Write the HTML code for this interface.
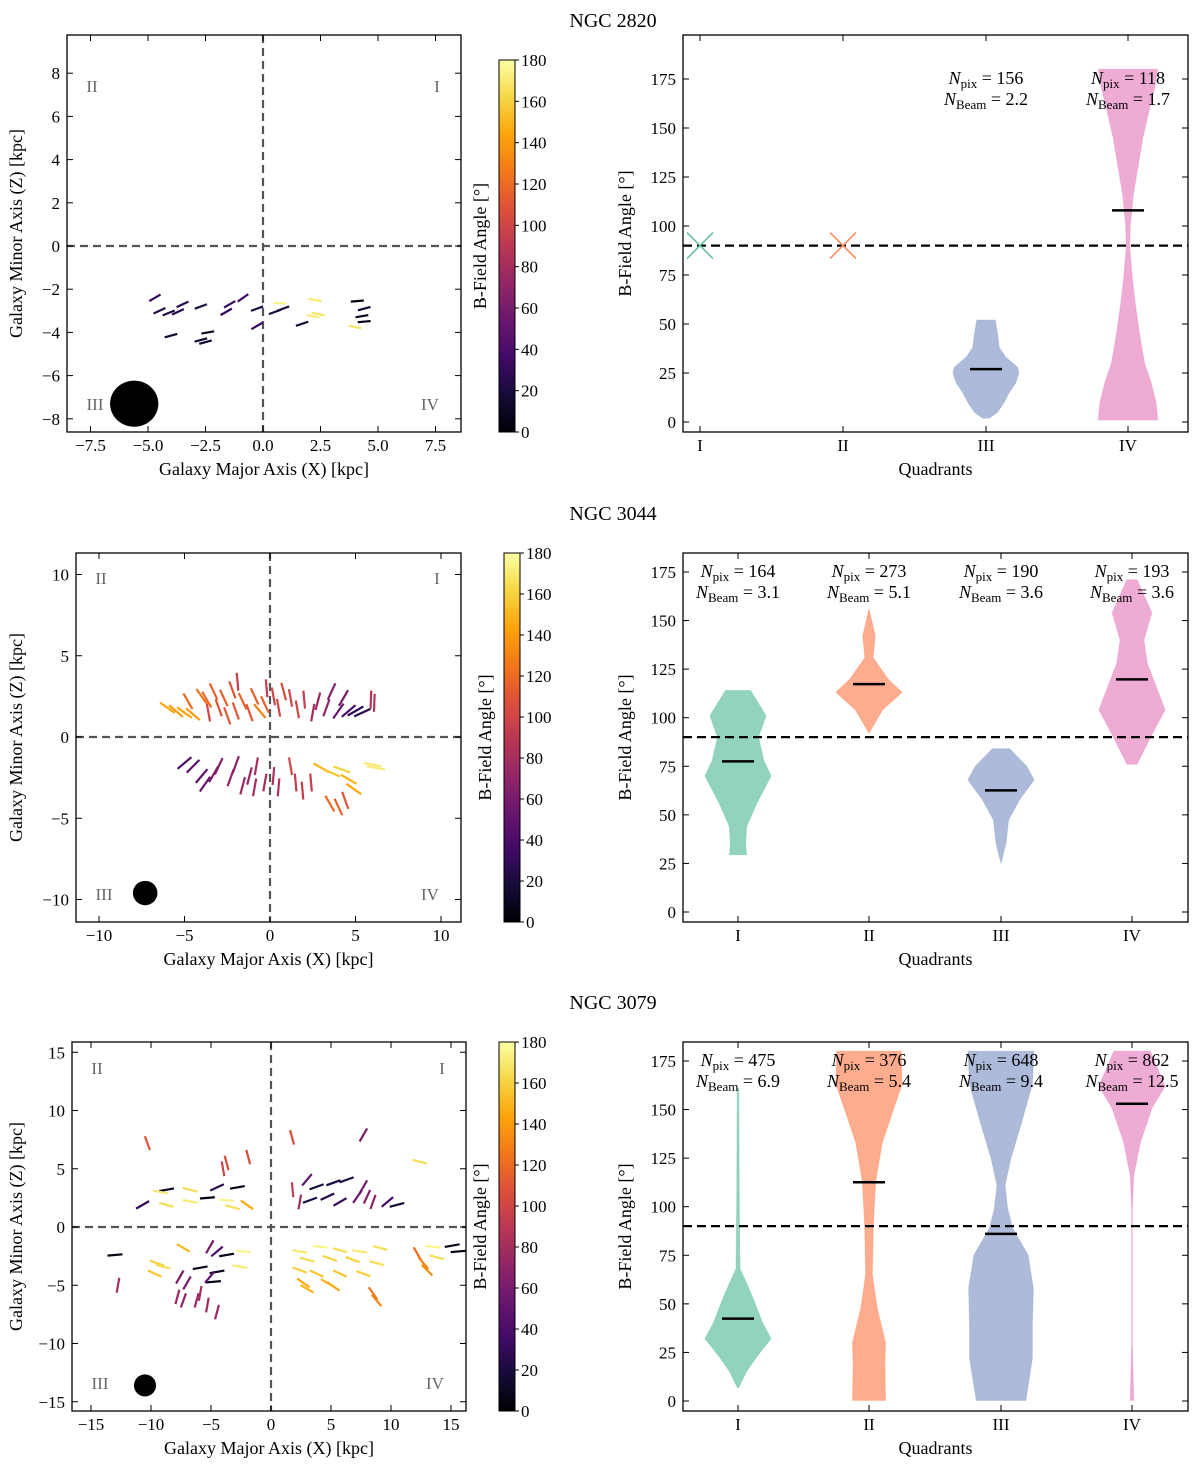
<!DOCTYPE html>
<html><head><meta charset="utf-8"><style>
html,body{margin:0;padding:0;background:#fff;}
svg{display:block;font-family:"Liberation Serif",serif;}
</style></head><body>
<svg id="fig" width="1200" height="1470" viewBox="0 0 1200 1470" xmlns="http://www.w3.org/2000/svg"></svg>
<script>
// ---------- DATA ----------
const rowTitles = ["NGC 2820","NGC 3044","NGC 3079"];
const quadrantNames = ["I","II","III","IV"];
const cbTicks = [0,20,40,60,80,100,120,140,160,180];
const angleTicks = [0,25,50,75,100,125,150,175];

// NGC 2820 vectors (kpc, kpc, deg)
const v1x = [-4.7,-4.5,-4.1,-3.7,-3.5,-2.7,-1.6,-1.45,-0.87,-0.26,0.52,0.87,-0.26,0.74,2.26,2.4,2.17,1.7,4.1,4.4,4.3,4.4,4.0,-4.0,-2.7,-2.5,-2.4];
const v1y = [-2.4,-3.0,-3.1,-3.05,-2.7,-2.8,-3.05,-2.7,-2.4,-2.9,-3.05,-2.9,-3.7,-2.65,-2.5,-3.15,-3.25,-3.6,-2.55,-2.9,-3.25,-3.5,-3.75,-4.15,-4.35,-4.45,-4.0];
const v1a = [30,25,22,25,25,20,30,30,35,20,20,20,30,175,170,168,170,18,5,15,10,5,168,15,15,15,10];

// NGC 3044 vectors
const v2x = [-6,-5.5,-5,-4.5,-4,-3.7,-3.3,-3,-2.7,-2.2,-2,-1.6,-1.2,-0.9,-0.6,-0.3,-0.2,0.2,0.5,0.8,1.2,1.6,2.0,2.5,2.8,3.3,3.6,4.0,4.3,4.6,5.0,5.4,5.9,6.1,-3.6,-4.8,-1.9,-2.5,
 -5,-4.5,-4,-3.8,-3.3,-3,-2.3,-1.6,-1.2,-0.8,-0.3,0.2,0.5,1.2,1.5,1.9,2.4,3.0,3.6,4.2,4.6,4.9,6,6.2,3.5,4.0,4.4,-2.0,-0.9];
const v2y = [1.8,1.6,1.5,1.4,2.5,2.3,2.8,1.8,2.4,2.9,1.6,2.2,1.5,2.5,1.6,2.0,3.0,2.5,1.8,2.8,2.4,1.7,2.3,1.5,2.2,1.8,2.8,1.6,2.4,1.6,1.6,1.5,2.3,2.1,1.5,2.2,3.4,1.3,
 -1.6,-1.8,-2.4,-2.9,-2.3,-1.8,-2.5,-3.0,-2.4,-1.8,-2.8,-2.4,-3.1,-1.8,-2.8,-3.3,-2.8,-1.9,-2.2,-2.0,-2.6,-3.2,-1.7,-1.9,-4.1,-4.3,-3.9,-1.7,-3.1];
const v2a = [145,140,145,140,125,120,115,110,115,110,110,115,110,115,130,115,95,100,100,105,100,100,95,80,75,70,65,55,60,40,30,25,88,88,100,120,95,110,
 40,45,50,55,60,65,70,75,75,80,80,85,85,100,95,95,95,150,155,160,150,145,170,170,120,115,110,70,80];

// NGC 3079 vectors
const v3x = [-10.3,-3.7,-1.9,-8.7,-6.75,-4.5,-2.8,-10.7,-8.7,-6.75,-5.3,-3.7,-2,-3.2,-9.2,-4.0,
 1.75,7.7,12.4,3.0,1.8,3.8,5.2,6.3,3.25,4.7,5.75,7.7,8.0,8.5,9.7,10.5,2.4,7.2,
 -13,-12.75,-7.3,-9.5,-9,-9.7,-5.1,-4.5,-3.7,-2.3,-5.9,-4.5,-2.6,-4.8,-7.6,-7.0,-7.8,-7.3,-5.9,-6.2,-5.3,-4.5,-5.1,
 2.4,4.1,5.75,7.4,9.1,3.0,4.9,6.8,8.8,2.4,3.8,5.75,7.7,2.7,4.7,3.0,5.2,8.5,8.8,12.2,12.7,13.0,13.8,13.5,15.1,15.6];
const v3y = [7.2,5.5,6.0,3.2,3.2,3.4,3.4,1.9,1.9,2.2,2.5,2.3,1.9,1.7,3.0,5.0,
 7.7,7.9,5.6,4.05,3.2,3.45,3.8,4.05,2.3,2.6,2.15,3.45,2.6,2.15,2.15,1.9,2.15,2.6,
 -2.4,-5,-1.8,-3.1,-3.4,-4.0,-1.7,-2.1,-2.4,-2.1,-3.5,-3.85,-3.4,-4.7,-4.3,-4.8,-6.0,-6.3,-5.7,-6.3,-6.7,-7.3,-4.3,
 -2.1,-1.7,-2.0,-2.1,-1.8,-2.8,-2.7,-2.8,-3.1,-3.7,-4.0,-4.0,-4.0,-4.8,-4.8,-5.3,-5.1,-5.7,-6.3,-2.3,-3.1,-3.7,-2.6,-1.7,-1.6,-2.1];
const v3a = [110,105,105,10,165,25,10,30,165,170,5,175,145,165,170,100,
 105,60,165,50,95,20,20,20,20,25,30,60,65,70,40,15,80,55,
 5,80,150,160,165,155,60,40,10,175,10,10,170,5,60,60,75,70,80,75,80,75,50,
 170,175,165,170,165,165,160,160,165,160,155,155,160,145,150,150,145,125,130,120,130,135,165,175,10,5];

// Violin densities (angle deg, relative half-width)
const r1ViolinIIIang = [2,5,10,15,20,25,28,33,38,45,50,52];
const r1ViolinIIIw   = [0.1,0.35,0.55,0.7,0.9,1,0.95,0.6,0.4,0.35,0.3,0.28];
const r1ViolinIVang  = [1,10,20,30,45,60,75,90,100,115,130,145,160,170,180];
const r1ViolinIVw    = [0.9,0.85,0.7,0.5,0.35,0.22,0.12,0.05,0.07,0.15,0.3,0.45,0.65,0.8,0.9];
const r1Medians = [null,null,27,108];
const r1Markers = [90,90,null,null];
const r1Npix = [null,null,"156","118"];
const r1Nbeam = [null,null,"2.2","1.7"];

const r2IAng = [29.5,35,44,56,70,78,90,101,114];
const r2IW   = [0.26,0.23,0.26,0.57,1.0,0.78,0.62,0.85,0.38];
const r2IIAng = [92,104,113,120,131,142,156];
const r2IIW   = [0,0.41,1.0,0.57,0.12,0.19,0];
const r2IIIAng = [25,35.5,47.5,58,68,75,84];
const r2IIIW   = [0,0.15,0.23,0.57,1.0,0.78,0.26];
const r2IVAng = [76,92,104,128,140,154,171];
const r2IVW   = [0.15,0.62,1.0,0.46,0.36,0.6,0.15];
const r2Medians = [77.5,117.3,62.6,119.7];
const r2Npix = ["164","273","190","193"];
const r2Nbeam = ["3.1","5.1","3.6","3.6"];

const r3IAng = [7,15,23.5,32,41,51,61,68,99,161];
const r3IW   = [0.02,0.25,0.6,1.0,0.72,0.5,0.25,0.06,0.04,0.02];
const r3IIAng = [0.3,20,30,47.6,65,90.5,113,133,150.6,163,180];
const r3IIW   = [0.5,0.48,0.5,0.25,0.1,0.13,0.2,0.4,0.75,1.0,0.98];
const r3IIIAng = [0.3,22,39,58,75,89,99,111,125,142,163,180];
const r3IIIW   = [0.75,0.95,0.95,0.98,0.82,0.35,0.2,0.12,0.3,0.6,0.95,1.0];
const r3IVAng = [0.3,30,99,116,133,150.6,162,180];
const r3IVW   = [0.05,0.01,0.01,0.05,0.25,0.6,1.0,0.55];
const r3Medians = [42.4,112.6,86,153];
const r3Npix = ["475","376","648","862"];
const r3Nbeam = ["6.9","5.4","9.4","12.5"];

// ---------- RENDER ----------
const NS = "http://www.w3.org/2000/svg";
const svg = document.getElementById("fig");
function el(tag, attrs, parent){
  const e = document.createElementNS(NS, tag);
  for (const k in attrs) e.setAttribute(k, attrs[k]);
  (parent||svg).appendChild(e);
  return e;
}
function txt(s, x, y, size, anchor, parent, extra){
  const t = el("text", Object.assign({x:x, y:y, "font-size":size, "text-anchor":anchor||"middle", fill:"#000"}, extra||{}), parent);
  t.textContent = s;
  return t;
}
function fmt(v){ const s = String(v); return s.replace("-", "\u2212"); }
const inferno = ["#000004","#160b39","#420a68","#6a176e","#932667","#bc3754","#dd513a","#f37819","#fca50a","#f6d746","#fcffa4"];
function hex(c){return [parseInt(c.slice(1,3),16),parseInt(c.slice(3,5),16),parseInt(c.slice(5,7),16)];}
function cmap(a){
  let t = Math.max(0,Math.min(1,a/180))*10; let i = Math.min(9,Math.floor(t)); let f = t-i;
  const c0 = hex(inferno[i]), c1 = hex(inferno[i+1]);
  return "rgb(" + c0.map((v,k)=>Math.round(v+(c1[k]-v)*f)).join(",") + ")";
}

const defs = el("defs", {});
const grad = el("linearGradient", {id:"infg", x1:"0", y1:"1", x2:"0", y2:"0"}, defs);
inferno.forEach((c,i)=>el("stop",{offset:(i*10)+"%","stop-color":c},grad));

function leftPanel(cfg){
  const g = el("g", {});
  
  
  const X = v => cfg.xc + v*cfg.xs;
  const Y = v => cfg.yc - v*cfg.ys;
  const dx = el("line",{x1:X(0),x2:X(0),y1:cfg.top,y2:cfg.bot,stroke:"#555","stroke-width":2.2,"stroke-dasharray":"8,5"},g);
  
  
  const dy = el("line",{x1:cfg.left,x2:cfg.right,y1:Y(0),y2:Y(0),stroke:"#555","stroke-width":2.2,"stroke-dasharray":"8,5"},g);
  
  
  for (let i=0;i<cfg.vx.length;i++){
    const a = cfg.va[i]*Math.PI/180, h = cfg.len/2;
    const cx = X(cfg.vx[i]), cy = Y(cfg.vy[i]);
    const ln = el("line",{x1:cx-h*Math.cos(a),y1:cy+h*Math.sin(a),x2:cx+h*Math.cos(a),y2:cy-h*Math.sin(a),stroke:cmap(cfg.va[i]),"stroke-width":2.2,"stroke-linecap":"butt"},g);
    
    
  }
  const b = el("ellipse",{cx:X(cfg.beam[0]),cy:Y(cfg.beam[1]),rx:cfg.beam[2]*cfg.xs,ry:cfg.beam[3]*cfg.ys,fill:"#000"},g);
  
  
  const ql = [["II",cfg.left+25,cfg.top+cfg.qy1],["I",cfg.right-24,cfg.top+cfg.qy1],["III",cfg.left+28,cfg.bot-cfg.qy2],["IV",cfg.right-31,cfg.bot-cfg.qy2]];
  ql.forEach(q=>{ const t = txt(q[0],q[1],q[2],17,"middle",g,{fill:"#666"});
    
     });
  const fr = el("rect",{x:cfg.left,y:cfg.top,width:cfg.right-cfg.left,height:cfg.bot-cfg.top,fill:"none",stroke:"#000","stroke-width":1.3},g);
  
  
  cfg.xticks.forEach(v=>{
    const x = X(v);
    el("line",{x1:x,x2:x,y1:cfg.bot,y2:cfg.bot-6,stroke:"#000"},g);
    el("line",{x1:x,x2:x,y1:cfg.top,y2:cfg.top+6,stroke:"#000"},g);
    const t = txt(fmt(cfg.xlab(v)),x,cfg.bot+19,17,"middle",g);
    
    
  });
  cfg.yticks.forEach(v=>{
    const y = Y(v);
    el("line",{x1:cfg.left,x2:cfg.left+6,y1:y,y2:y,stroke:"#000"},g);
    el("line",{x1:cfg.right,x2:cfg.right-6,y1:y,y2:y,stroke:"#000"},g);
    const t = txt(fmt(v),cfg.left-7,y+6,17,"end",g);
    
    
  });
  const xt = txt("Galaxy Major Axis (X) [kpc]",(cfg.left+cfg.right)/2,cfg.bot+43,18,"middle",g);
  
  
  const yc = (cfg.top+cfg.bot)/2;
  const yt = txt("Galaxy Minor Axis (Z) [kpc]",22,yc,18,"middle",g,{transform:"rotate(-90 22 "+yc+")"});
  
  
  const cb = el("rect",{x:cfg.cbx,y:cfg.top+cfg.cbTopOff,width:16,height:cfg.bot-cfg.top-cfg.cbTopOff,fill:"url(#infg)",stroke:"#000","stroke-width":1},g);
  
  
  const ct = cfg.top+cfg.cbTopOff, ch = cfg.bot-ct;
  cbTicks.forEach(v=>{
    const y = cfg.bot - v/180*ch;
    el("line",{x1:cfg.cbx+16,x2:cfg.cbx+20,y1:y,y2:y,stroke:"#000"},g);
    const t = txt(String(v),cfg.cbx+22,y+6,17,"start",g);
    
    
  });
  const cx = cfg.cbx-13, cy = ct+ch/2;
  const cl = txt("B-Field Angle [°]",cx,cy,18,"middle",g,{transform:"rotate(-90 "+cx+" "+cy+")"});
  
  
}

const vColors = ["#66c2a5","#fc8d62","#8da0cb","#e78ac3"];
function rightPanel(cfg){
  const g = el("g", {});
  
  
  const Y = d => cfg.y0 - d*cfg.yd;
  const HW = 33;
  cfg.violins.forEach((vv,i)=>{
    if(!vv) return;
    const cx = cfg.cats[i], ang = vv[0], w = vv[1];
    let pts = [];
    for(let k=0;k<ang.length;k++) pts.push((cx+w[k]*HW).toFixed(1)+","+Y(ang[k]).toFixed(1));
    for(let k=ang.length-1;k>=0;k--) pts.push((cx-w[k]*HW).toFixed(1)+","+Y(ang[k]).toFixed(1));
    const p = el("polygon",{points:pts.join(" "),fill:vColors[i],"fill-opacity":0.72,stroke:vColors[i],"stroke-opacity":0.4,"stroke-linejoin":"round"},g);
    
    
  });
  const rl = el("line",{x1:cfg.left,x2:cfg.right,y1:Y(90),y2:Y(90),stroke:"#000","stroke-width":2.2,"stroke-dasharray":"9,5"},g);
  
  
  cfg.medians.forEach((m,i)=>{
    if(m===null) return;
    const ml = el("line",{x1:cfg.cats[i]-16,x2:cfg.cats[i]+16,y1:Y(m),y2:Y(m),stroke:"#000","stroke-width":2.5},g);
    
    
  });
  (cfg.markers||[]).forEach((m,i)=>{
    if(m===null) return;
    const cx = cfg.cats[i], cy = Y(m), s = 13;
    const mk = el("path",{d:`M${cx-s} ${cy-s}L${cx+s} ${cy+s}M${cx-s} ${cy+s}L${cx+s} ${cy-s}`,stroke:vColors[i],"stroke-width":1.6,fill:"none"},g);
    
    
  });
  cfg.npix.forEach((n,i)=>{
    if(n===null) return;
    const cx = cfg.cats[i];
    const t1 = el("text",{x:cx,y:cfg.top+cfg.ann1,"font-size":18,"text-anchor":"middle"},g);
    
    
    t1.innerHTML = '<tspan font-style="italic">N</tspan><tspan font-size="13" dy="4">pix</tspan><tspan dy="-4"> = '+n+'</tspan>';
    const t2 = el("text",{x:cx,y:cfg.top+cfg.ann1+21,"font-size":18,"text-anchor":"middle"},g);
    
    
    t2.innerHTML = '<tspan font-style="italic">N</tspan><tspan font-size="13" dy="4">Beam</tspan><tspan dy="-4"> = '+cfg.nbeam[i]+'</tspan>';
  });
  const fr = el("rect",{x:cfg.left,y:cfg.top,width:cfg.right-cfg.left,height:cfg.bot-cfg.top,fill:"none",stroke:"#000","stroke-width":1.3},g);
  
  
  angleTicks.forEach(v=>{
    const y = Y(v);
    el("line",{x1:cfg.left,x2:cfg.left+6,y1:y,y2:y,stroke:"#000"},g);
    el("line",{x1:cfg.right,x2:cfg.right-6,y1:y,y2:y,stroke:"#000"},g);
    const t = txt(String(v),cfg.left-7,y+6,17,"end",g);
    
    
  });
  quadrantNames.forEach((q,i)=>{
    const x = cfg.cats[i];
    el("line",{x1:x,x2:x,y1:cfg.bot,y2:cfg.bot-6,stroke:"#000"},g);
    el("line",{x1:x,x2:x,y1:cfg.top,y2:cfg.top+6,stroke:"#000"},g);
    const t = txt(q,x,cfg.bot+19,17,"middle",g);
    
    
  });
  const xt = txt("Quadrants",(cfg.left+cfg.right)/2,cfg.bot+43,18,"middle",g);
  
  
  const yc = (cfg.top+cfg.bot)/2, yx = cfg.left-52;
  const yt = txt("B-Field Angle [°]",yx,yc,18,"middle",g,{transform:"rotate(-90 "+yx+" "+yc+")"});
  
  
}

[20,513,1002].forEach((y,i)=>{
  const t = txt(rowTitles[i],613,y+7,20,"middle");
  
  
});

leftPanel({name:"ngc2820",left:67,right:461,top:35,bot:432,xc:263,xs:23,yc:246,ys:21.6,
  xticks:[-7.5,-5,-2.5,0,2.5,5,7.5],xlab:v=>v.toFixed(1),yticks:[-8,-6,-4,-2,0,2,4,6,8],
  vx:v1x,vy:v1y,va:v1a,len:13,beam:[-5.6,-7.3,1.05,1.07],qy1:57,qy2:22,cbx:499,cbTopOff:25});
leftPanel({name:"ngc3044",left:76,right:461,top:553,bot:922,xc:270,xs:17.1,yc:737,ys:16.25,
  xticks:[-10,-5,0,5,10],xlab:v=>v,yticks:[-10,-5,0,5,10],
  vx:v2x,vy:v2y,va:v2a,len:18,beam:[-7.3,-9.6,0.72,0.75],qy1:31,qy2:22,cbx:504,cbTopOff:0});
leftPanel({name:"ngc3079",left:72,right:466,top:1042,bot:1411,xc:271,xs:12,yc:1227,ys:11.65,
  xticks:[-15,-10,-5,0,5,10,15],xlab:v=>v,yticks:[-15,-10,-5,0,5,10,15],
  vx:v3x,vy:v3y,va:v3a,len:15,beam:[-10.5,-13.6,0.92,0.95],qy1:32,qy2:22,cbx:499,cbTopOff:0});

rightPanel({name:"ngc2820",left:683,right:1188,top:35,bot:432,y0:422,yd:1.96,cats:[700,843,986,1128],ann1:49,
  violins:[null,null,[r1ViolinIIIang,r1ViolinIIIw],[r1ViolinIVang,r1ViolinIVw]],medians:r1Medians,markers:r1Markers,npix:r1Npix,nbeam:r1Nbeam});
rightPanel({name:"ngc3044",left:683,right:1188,top:553,bot:922,y0:912,yd:1.943,cats:[738,869,1001,1132],ann1:24,
  violins:[[r2IAng,r2IW],[r2IIAng,r2IIW],[r2IIIAng,r2IIIW],[r2IVAng,r2IVW]],medians:r2Medians,npix:r2Npix,nbeam:r2Nbeam});
rightPanel({name:"ngc3079",left:683,right:1188,top:1042,bot:1411,y0:1401,yd:1.943,cats:[738,869,1001,1132],ann1:24,
  violins:[[r3IAng,r3IW],[r3IIAng,r3IIW],[r3IIIAng,r3IIIW],[r3IVAng,r3IVW]],medians:r3Medians,npix:r3Npix,nbeam:r3Nbeam});
</script>
</body></html>
